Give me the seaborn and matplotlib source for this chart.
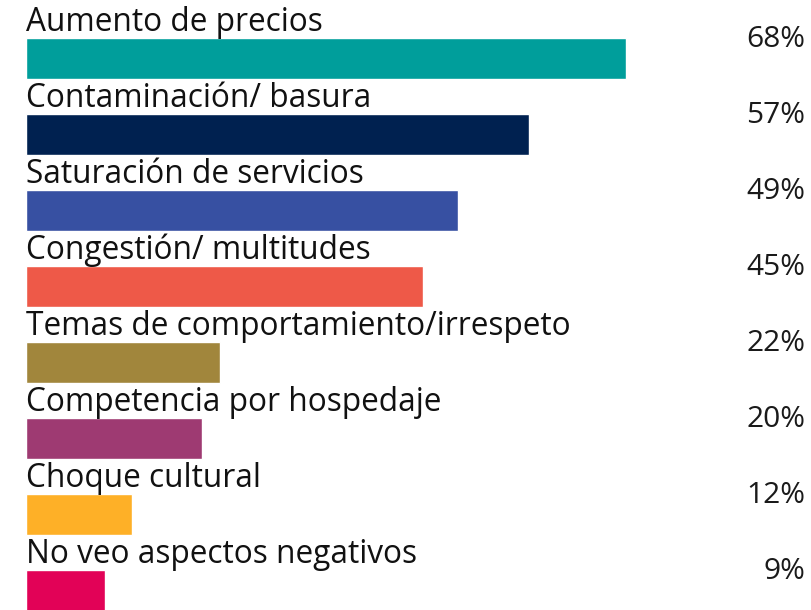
import matplotlib
matplotlib.use("Agg")
import matplotlib.pyplot as plt
import seaborn as sns
import pandas as pd

categories = [
    "Aumento de precios",
    "Contaminación/ basura",
    "Saturación de servicios",
    "Congestión/ multitudes",
    "Temas de comportamiento/irrespeto",
    "Competencia por hospedaje",
    "Choque cultural",
    "No veo aspectos negativos",
]
values = [68, 57, 49, 45, 22, 20, 12, 9]
value_labels = ["68%", "57%", "49%", "45%", "22%", "20%", "12%", "9%"]
colors = ["#009E9B", "#002150", "#3750A2", "#EE5948", "#A1863C", "#9E3A72", "#FEB027", "#E20257"]

sns.set_theme(style="white")
plt.rcParams["font.family"] = ["Open Sans", "DejaVu Sans"]

df = pd.DataFrame({"cat": categories, "val": values})

fig = plt.figure(figsize=(8.11, 6.10), dpi=100)
ax = fig.add_axes([0, 0, 1, 1])
sns.barplot(data=df, x="val", y="cat", hue="cat", palette=colors, legend=False,
            width=0.53, orient="h", ax=ax, saturation=1)

px_per = 8.82
ax.set_xlim(-26 / px_per, (811 - 26) / px_per)
ax.set_ylim(7 + (610 - 590.5) / 76, -58.5 / 76)
ax.axis("off")

for i, (c, lab) in enumerate(zip(categories, value_labels)):
    top = i - 0.265
    ax.text(0, top - 7 / 76, c, ha="left", va="baseline", fontsize=22.8,
            color="#111111", fontweight="normal")
    ax.text((805 - 26) / px_per, top + 1 / 76, lab, ha="right", va="center",
            fontsize=21.5, color="#1a1a1a", fontweight="normal")

fig.savefig("out.png", dpi=100)
